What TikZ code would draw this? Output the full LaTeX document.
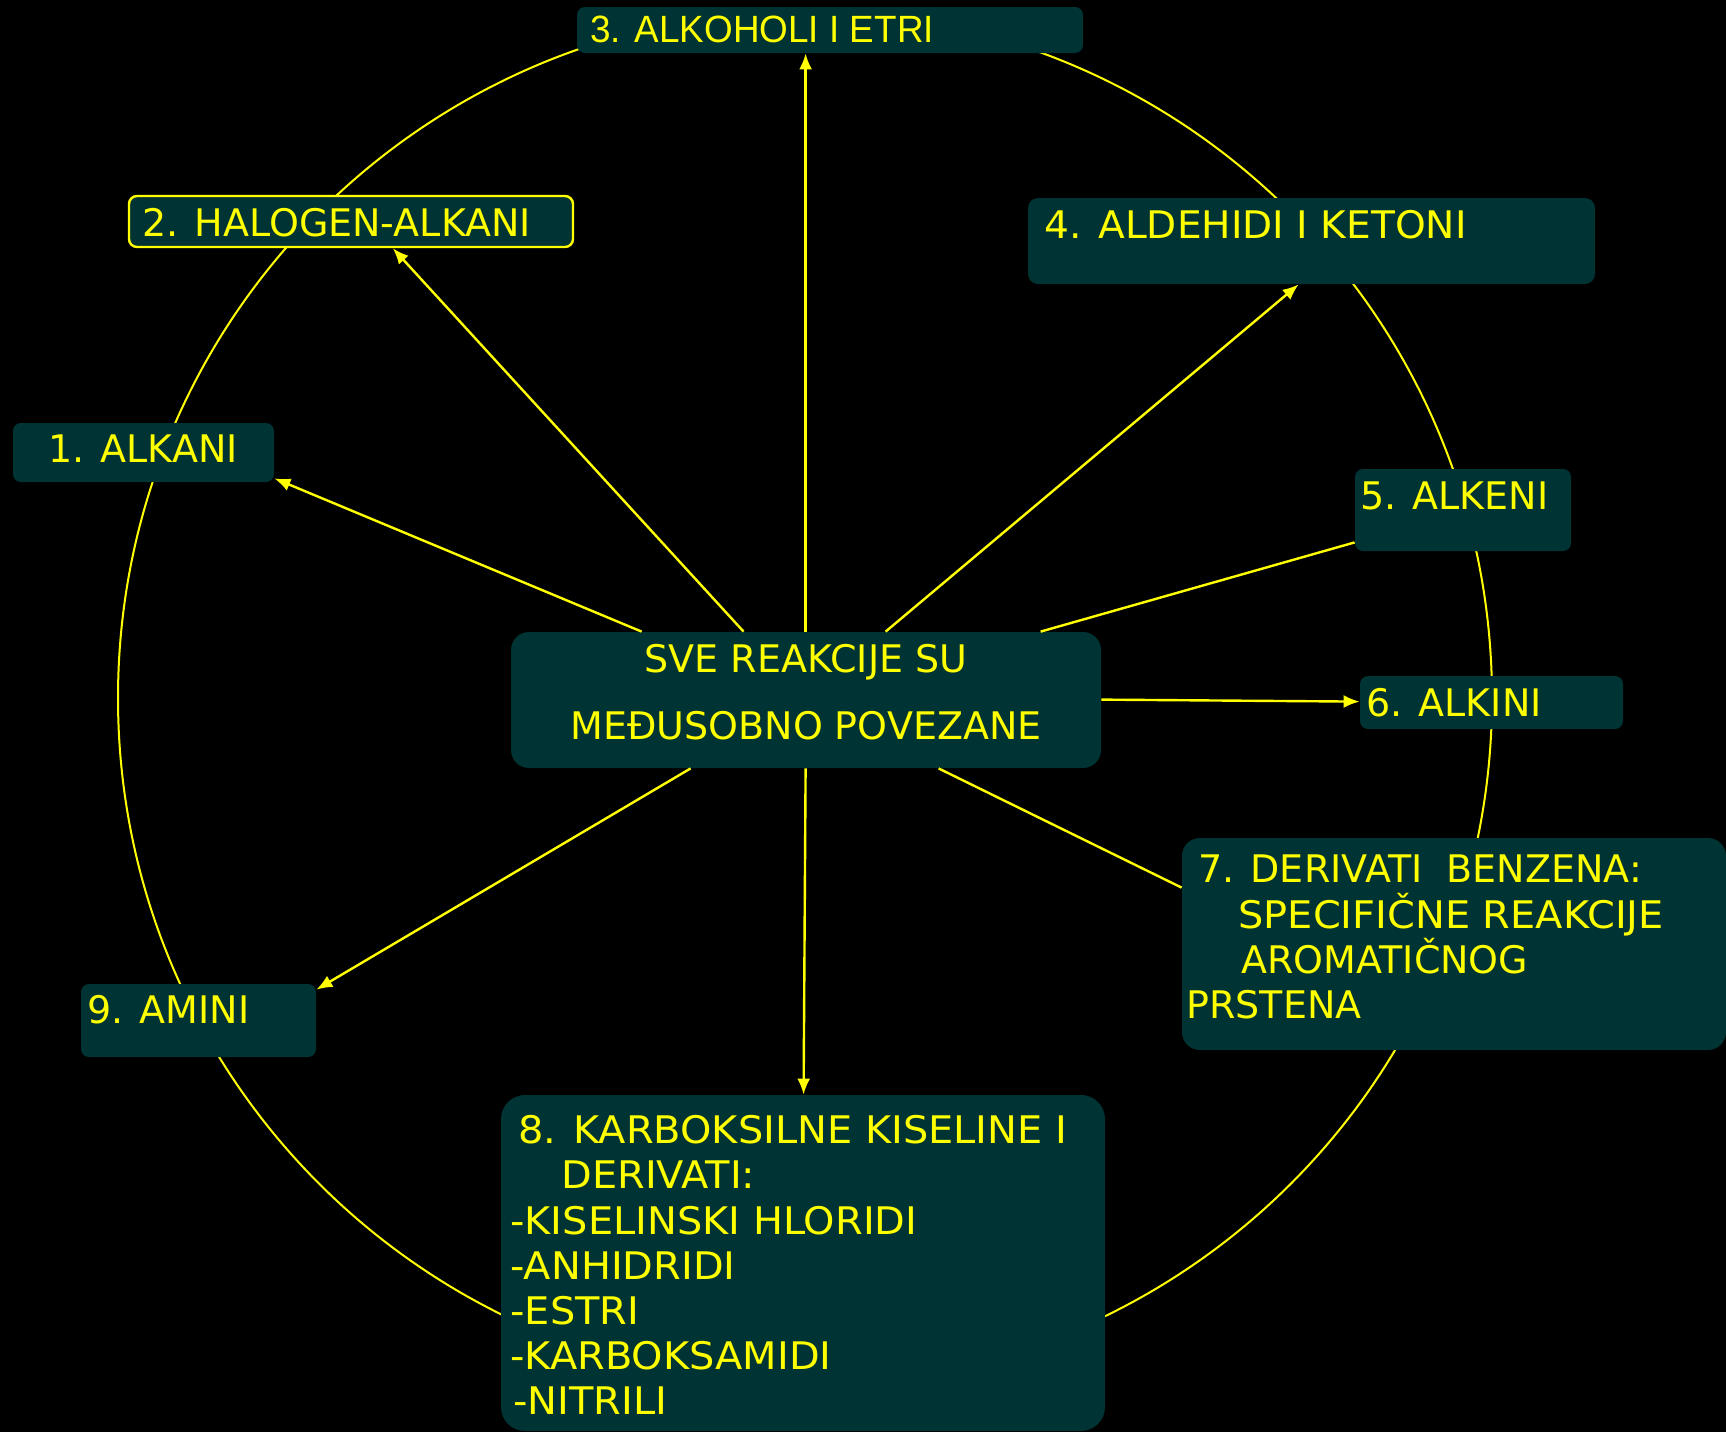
\documentclass[tikz,border=0pt]{standalone}
\usepackage{fontspec}
\setmainfont{DejaVu Sans}
\newfontfamily\widef[FakeStretch=1.05]{DejaVu Sans}
\newfontfamily\semiwidef[FakeStretch=1.03]{DejaVu Sans}
\newfontfamily\arialf[FakeStretch=0.97]{Liberation Sans}
\usetikzlibrary{calc,fit,arrows.meta}
\definecolor{boxfill}{HTML}{003333}
\definecolor{ylw}{HTML}{FFFF00}
\begin{document}
\begin{tikzpicture}[x=0.5pt,y=-0.5pt,
  box/.style={fill=boxfill,draw=none,rounded corners=4pt,inner sep=0pt},
  bigbox/.style={box,rounded corners=9pt},
  txt/.style={text=ylw,inner sep=0pt,anchor=base west,font=\fontsize{19}{22.5}\selectfont},
  wtxt/.style={txt,font=\widef\fontsize{19}{22.5}\selectfont},
  conn/.style={draw=ylw,line width=1.2pt},
  arr/.style={conn,-{Latex[length=8pt,width=6.5pt]}}]
\fill[black] (0,0) rectangle (1726,1432);
\useasboundingbox (0,0) rectangle (1726,1432);
% circle
\draw[ylw,line width=1pt] (805,698) circle[radius=687];
% boxes
\node[box,fit={(13,423)(274,482)}] (b1) {};
\node[box,draw=ylw,line width=1.2pt,fit={(129,196)(573,247)}] (b2) {};
\node[box,fit={(577,7)(1083,53)}] (b3) {};
\node[box,rounded corners=5pt,fit={(1028,198)(1595,284)}] (b4) {};
\node[box,fit={(1355,469)(1571,551)}] (b5) {};
\node[box,fit={(1360,676)(1623,729)}] (b6) {};
\node[bigbox,fit={(511,632)(1101,768)}] (c) {};
\node[bigbox,fit={(1182,838)(1726,1050)}] (b7) {};
\node[bigbox,rounded corners=12pt,fit={(501,1095)(1105,1431)}] (b8) {};
\node[box,fit={(81,984)(316,1057)}] (b9) {};
% texts
\node[txt] (t1) at (48,462) {1. ALKANI};
\node[txt] (t2) at (142,236) {2. HALOGEN-ALKANI};
\node[txt,font=\arialf\fontsize{19}{22.5}\selectfont] (t3) at (590,42) {3. ALKOHOLI I ETRI};
\node[txt,font=\semiwidef\fontsize{19}{22.5}\selectfont] (t4) at (1044,238) {4. ALDEHIDI I KETONI};
\node[txt] (t5) at (1360,509) {5. ALKENI};
\node[txt] (t6) at (1366,716) {6. ALKINI};
\node[txt,anchor=base] (tc1) at (806,672) {SVE REAKCIJE SU};
\node[txt,anchor=base] (tc2) at (806,739) {MEĐUSOBNO POVEZANE};
\node[txt] (t7a) at (1198,882) {7. DERIVATI\ \ BENZENA:};
\node[wtxt] (t7b) at (1238,928) {SPECIFIČNE REAKCIJE};
\node[txt] (t7c) at (1241,973) {AROMATIČNOG};
\node[txt] (t7d) at (1186,1018) {PRSTENA};
\node[wtxt] (t8a) at (518,1143) {8. KARBOKSILNE KISELINE I};
\node[wtxt] (t8b) at (561,1188) {DERIVATI:};
\node[wtxt] (t8c) at (510,1234) {-KISELINSKI HLORIDI};
\node[wtxt] (t8d) at (510,1279) {-ANHIDRIDI};
\node[wtxt] (t8e) at (510,1324) {-ESTRI};
\node[wtxt] (t8f) at (510,1369) {-KARBOKSAMIDI};
\node[wtxt] (t8g) at (513,1414) {-NITRILI};
\node[txt] (t9) at (87,1023) {9. AMINI};
% connectors
\draw[arr] ($(c.north west)+(131,0)$) -- ($(b1.south east)+(0,-4)$);
\draw[arr] ($(c.north west)+(233,0)$) -- ($(b2.south west)+(265,0)$);
\draw[arr] ($(c.north west)+(295,0)$) -- ($(b3.south west)+(229,0)$);
\draw[arr] ($(c.north west)+(375,0)$) -- ($(b4.south west)+(271,0)$);
\draw[conn] ($(c.north west)+(530,0)$) -- ($(b5.south west)+(0,-9)$);
\draw[arr] ($(c.north east)+(0,68)$) -- ($(b6.north west)+(0,26)$);
\draw[conn] ($(c.south west)+(428,0)$) -- ($(b7.north west)+(0,50)$);
\draw[arr] ($(c.south west)+(295,0)$) -- ($(b8.north west)+(303,0)$);
\draw[arr] ($(c.south west)+(180,0)$) -- ($(b9.north east)+(0,6)$);
\end{tikzpicture}
\end{document}
